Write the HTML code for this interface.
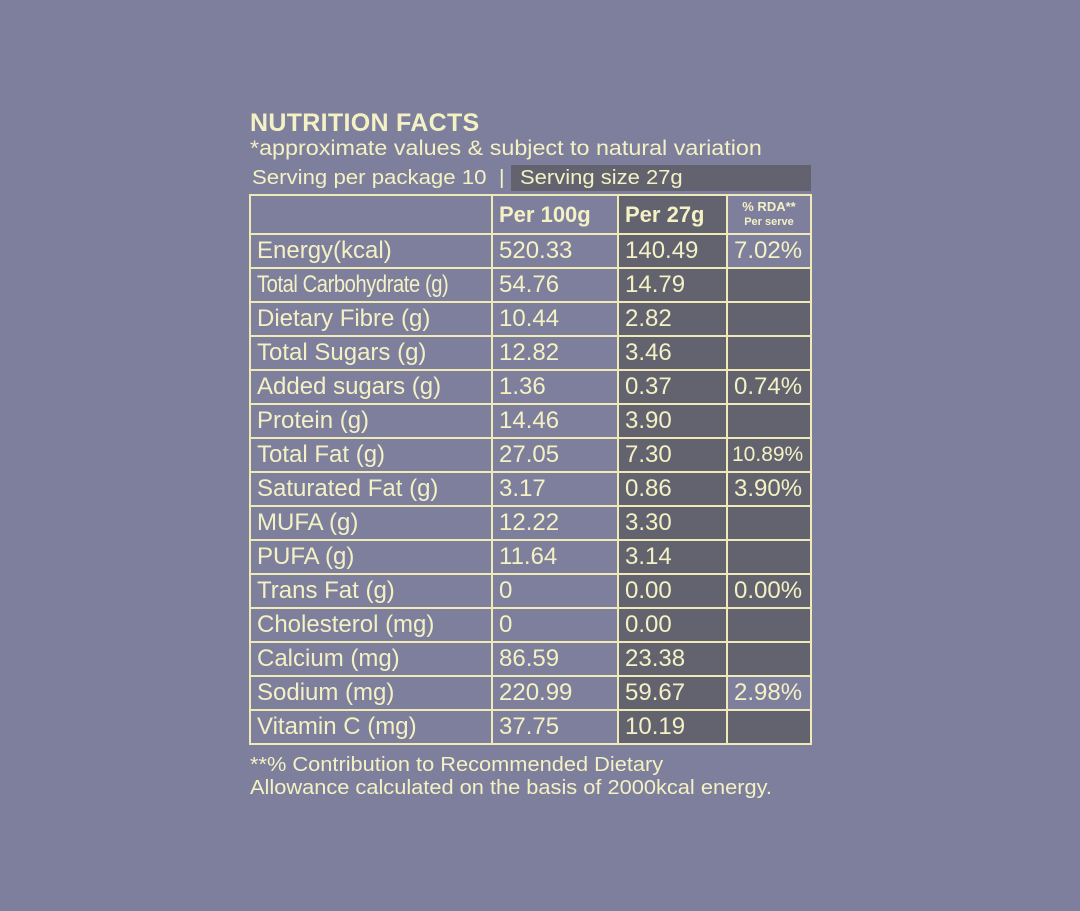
<!DOCTYPE html>
<html><head><meta charset="utf-8"><style>
html,body{margin:0;padding:0}
body{width:1080px;height:911px;background:#7e7f9c;position:relative;overflow:hidden;font-family:"Liberation Sans",sans-serif;color:#f4f1c4}
.t{position:absolute;white-space:nowrap;transform-origin:left top}
table{position:absolute;left:249px;top:194px;border-collapse:collapse}
td{border:2px solid #efeab8;padding:0 0 0 6px;height:32px;font-size:24px;line-height:32px;white-space:nowrap;overflow:hidden;vertical-align:middle}
.d{background:#62636f}
.h td{height:37px;font-weight:bold;font-size:22px}
</style></head><body>
<div class="t" style="left:250px;top:109px;font-size:25px;font-weight:bold;letter-spacing:0.3px">NUTRITION FACTS</div>
<div class="t" style="left:250px;top:137px;font-size:21px;transform:scaleX(1.11)">*approximate values &amp; subject to natural variation</div>
<div class="t" style="left:511px;top:165px;width:300px;height:26px;background:#62636f"></div>
<div class="t" style="left:252px;top:165px;font-size:20px;line-height:26px;transform:scaleX(1.11)">Serving per package 10 &nbsp;|</div>
<div class="t" style="left:520px;top:165px;font-size:20px;line-height:26px;transform:scaleX(1.1)">Serving size 27g</div>
<table>
<colgroup><col style="width:242px"><col style="width:126px"><col style="width:109px"><col style="width:84px"></colgroup>
<tr class="h"><td></td><td>Per 100g</td><td class="d">Per 27g</td><td style="text-align:center;padding:0;font-size:13px;line-height:14px">% RDA**<br><span style="font-size:11px">Per serve</span></td></tr>
<tr><td>Energy(kcal)</td><td>520.33</td><td class="d">140.49</td><td>7.02%</td></tr>
<tr><td><span style="display:inline-block;transform:scaleX(0.84);transform-origin:left;letter-spacing:-0.5px">Total Carbohydrate (g)</span></td><td>54.76</td><td class="d">14.79</td><td class="d"></td></tr>
<tr><td>Dietary Fibre (g)</td><td>10.44</td><td class="d">2.82</td><td class="d"></td></tr>
<tr><td>Total Sugars (g)</td><td>12.82</td><td class="d">3.46</td><td class="d"></td></tr>
<tr><td>Added sugars (g)</td><td>1.36</td><td class="d">0.37</td><td class="d">0.74%</td></tr>
<tr><td>Protein (g)</td><td>14.46</td><td class="d">3.90</td><td class="d"></td></tr>
<tr><td>Total Fat (g)</td><td>27.05</td><td class="d">7.30</td><td class="d" style="font-size:21px;padding-left:4px">10.89%</td></tr>
<tr><td>Saturated Fat (g)</td><td>3.17</td><td class="d">0.86</td><td class="d">3.90%</td></tr>
<tr><td>MUFA (g)</td><td>12.22</td><td class="d">3.30</td><td class="d"></td></tr>
<tr><td>PUFA (g)</td><td>11.64</td><td class="d">3.14</td><td class="d"></td></tr>
<tr><td>Trans Fat (g)</td><td>0</td><td class="d">0.00</td><td class="d">0.00%</td></tr>
<tr><td>Cholesterol (mg)</td><td>0</td><td class="d">0.00</td><td class="d"></td></tr>
<tr><td>Calcium (mg)</td><td>86.59</td><td class="d">23.38</td><td class="d"></td></tr>
<tr><td>Sodium (mg)</td><td>220.99</td><td class="d">59.67</td><td>2.98%</td></tr>
<tr><td>Vitamin C (mg)</td><td>37.75</td><td class="d">10.19</td><td class="d"></td></tr>
</table>
<div class="t" style="left:250px;top:754px;font-size:20px;line-height:23px;transform:scaleX(1.09)">**% Contribution to Recommended Dietary<br>Allowance calculated on the basis of 2000kcal energy.</div>
</body></html>
